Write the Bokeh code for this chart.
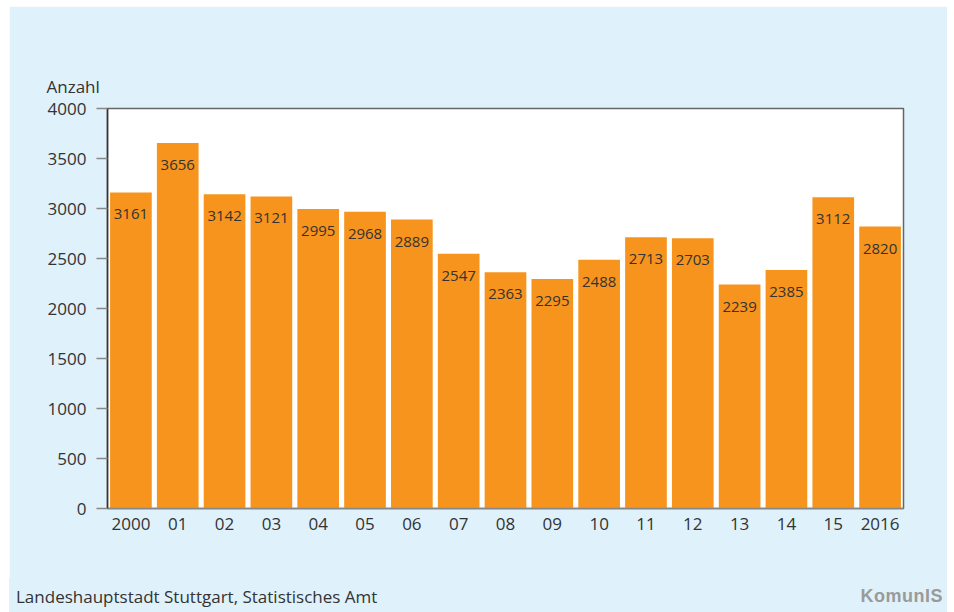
from bokeh.plotting import figure
from bokeh.models import Range1d, FixedTicker, ColumnDataSource, Div
from bokeh.layouts import column
from bokeh.core.properties import value
from bokeh.embed import file_html
from bokeh.resources import INLINE

years = ["2000", "01", "02", "03", "04", "05", "06", "07", "08", "09",
         "10", "11", "12", "13", "14", "15", "2016"]
counts = [3161, 3656, 3142, 3121, 2995, 2968, 2889, 2547, 2363, 2295,
          2488, 2713, 2703, 2239, 2385, 3112, 2820]
y_ticks = [0, 500, 1000, 1500, 2000, 2500, 3000, 3500, 4000]

BG = "#DFF1FB"
ORANGE = "#F7941D"
TXT = "#333333"
FONT = "Open Sans"

xs = list(range(len(years)))
src = ColumnDataSource(dict(x=xs, top=counts, lbl=[str(c) for c in counts]))

p = figure(width=938, height=572, output_backend="svg", toolbar_location=None,
           x_range=Range1d(-0.5, 16.5), y_range=Range1d(0, 4000),
           min_border_left=98, min_border_right=44, min_border_top=102,
           min_border_bottom=70, margin=0)
p.border_fill_color = BG
p.background_fill_color = "white"
p.outline_line_color = "#666666"
p.outline_line_width = 1.5
p.xgrid.grid_line_color = None
p.ygrid.grid_line_color = None

p.title.text = "Anzahl"
p.title.align = "left"
p.title.offset = -61
p.title.text_font = FONT
p.title.text_font_size = "17px"
p.title.text_font_style = "normal"
p.title.text_color = TXT
p.title.standoff = 21

p.vbar(x="x", top="top", bottom=0, width=0.89, source=src,
       fill_color=ORANGE, line_color=None)
p.text(x="x", y="top", text="lbl", source=src, text_align="center",
       text_baseline="middle", y_offset=22, text_font=value(FONT),
       text_font_size="15px", text_color=TXT)

ya = p.yaxis[0]
ya.ticker = FixedTicker(ticks=y_ticks)
ya.major_tick_out = 11
ya.major_tick_in = 0
ya.minor_tick_line_color = None
ya.major_tick_line_color = "#888888"
ya.major_tick_line_width = 1.5
ya.axis_line_color = "#333333"
ya.axis_line_width = 1.5
ya.major_label_text_font = FONT
ya.major_label_text_font_size = "17px"
ya.major_label_text_color = TXT
ya.major_label_standoff = 10

xa = p.xaxis[0]
xa.ticker = FixedTicker(ticks=xs)
xa.major_label_overrides = {i: y for i, y in enumerate(years)}
xa.major_tick_line_color = None
xa.major_tick_out = 0
xa.minor_tick_line_color = None
xa.axis_line_color = "#888888"
xa.axis_line_width = 1.5
xa.major_label_text_font = FONT
xa.major_label_text_font_size = "17px"
xa.major_label_text_color = TXT
xa.major_label_standoff = 9

footer = Div(
    text=(
        "<div style='display:flex;justify-content:space-between;"
        "align-items:center;width:938px;height:34px;box-sizing:border-box;"
        "padding:4px 4px 0 7px;'>"
        f"<span style=\"font-family:'{FONT}';font-size:17px;color:{TXT};\">"
        "Landeshauptstadt Stuttgart, Statistisches Amt</span>"
        "<span style=\"font-family:'Liberation Sans';font-size:18px;"
        "font-weight:bold;letter-spacing:0.5px;color:#9A9A9A;\">KomunIS</span>"
        "</div>"
    ),
    width=938, height=34, margin=0,
    styles={"background-color": BG},
)

layout = column(p, footer, spacing=0, margin=(6, 0, 0, 9))

open("out.html", "w").write(file_html(layout, INLINE))
